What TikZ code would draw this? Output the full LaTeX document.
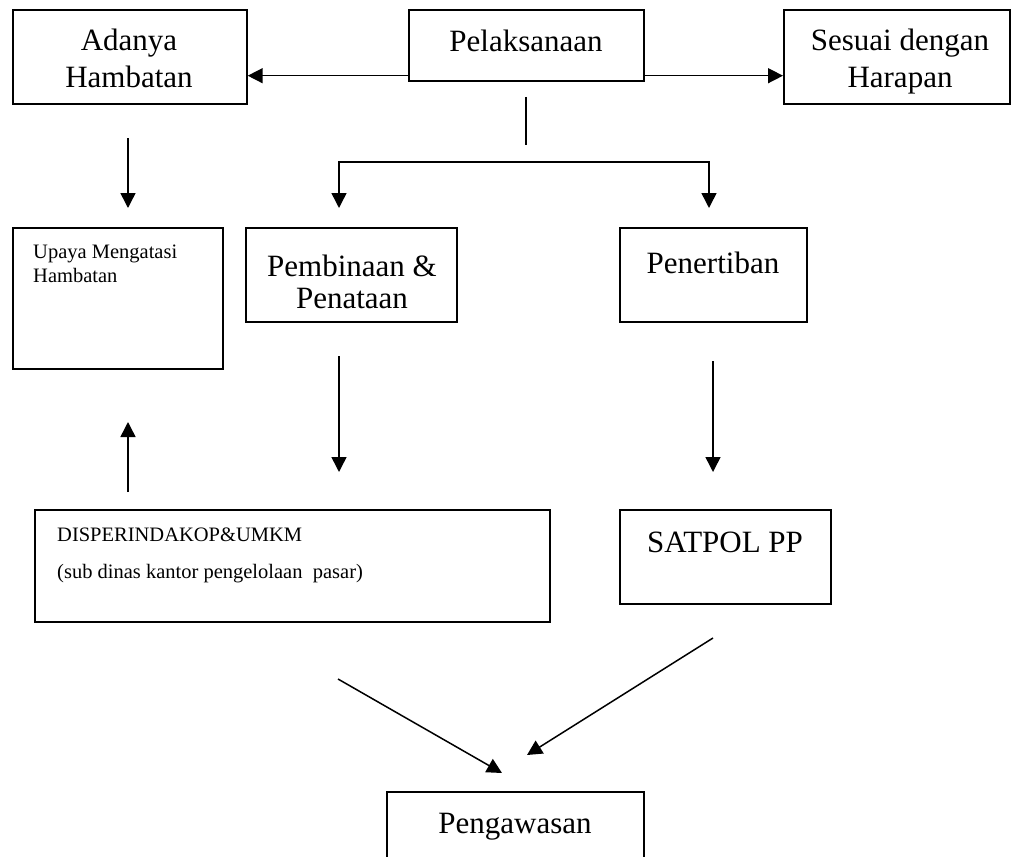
\documentclass[tikz,border=0pt]{standalone}
\usepackage{fontspec}
\setmainfont{Liberation Serif}
\usetikzlibrary{arrows.meta}
\tikzset{
  box/.style={draw, line width=1.7pt, inner sep=0pt, anchor=north west},
  big/.style={font=\fontsize{31}{36}\selectfont, inner sep=0pt, anchor=base},
  small/.style={font=\fontsize{20.5}{24}\selectfont, inner sep=0pt, anchor=base west},
  conn/.style={line width=1.5pt},
  arr/.style={line width=1.5pt, -{Triangle[length=15pt,width=15pt]}}
}
\begin{document}
\begin{tikzpicture}[x=1pt,y=-1pt]
\useasboundingbox (0,0) rectangle (1011,856);
% boxes
\node[box, minimum width=234pt, minimum height=94pt] (adanya) at (12,9) {};
\node[box, minimum width=235pt, minimum height=71pt] (pel) at (408,9) {};
\node[box, minimum width=226pt, minimum height=94pt] (sesuai) at (783,9) {};
\node[box, minimum width=210pt, minimum height=141pt] (upaya) at (12,227) {};
\node[box, minimum width=211pt, minimum height=94pt] (pemb) at (245,227) {};
\node[box, minimum width=187pt, minimum height=94pt] (pener) at (619,227) {};
\node[box, minimum width=515pt, minimum height=112pt] (disp) at (34,509) {};
\node[box, minimum width=211pt, minimum height=94pt] (satpol) at (619,509) {};
\node[box, minimum width=257pt, minimum height=80pt] (peng) at (386,791) {};
% texts
\node[big] (tAd1) at (129,51) {Adanya};
\node[big] (tAd2) at (129,88) {Hambatan};
\node[big] (tPel) at (526,52) {Pelaksanaan};
\node[big] (tSe1) at (900,51) {Sesuai dengan};
\node[big] (tSe2) at (900,88) {Harapan};
\node[small] (tUp1) at (33,258) {Upaya Mengatasi};
\node[small] (tUp2) at (33,282) {Hambatan};
\node[big] (tPb1) at (352,276) {Pembinaan \&};
\node[big] (tPb2) at (352,308) {Penataan};
\node[big] (tPn) at (713,273) {Penertiban};
\node[small] (tDi1) at (57,541) {DISPERINDAKOP\&UMKM};
\node[small] (tDi2) at (57,578) {(sub dinas kantor pengelolaan\ \ pasar)};
\node[big] (tSa) at (725,552) {SATPOL PP};
\node[big] (tPg) at (515,833) {Pengawasan};
% free-end coordinates
\coordinate (trA) at (526,97);
\coordinate (trB) at (526,145);
\coordinate (hL) at (339,162);
\coordinate (hR) at (709,162);
\coordinate (pembIn) at (339,208);
\coordinate (penerIn) at (709,208);
\coordinate (adOut) at (128,138);
\coordinate (upIn) at (128,208);
\coordinate (pbOut) at (339,356);
\coordinate (pbIn) at (339,472);
\coordinate (pnOut) at (713,361);
\coordinate (pnIn) at (713,472);
\coordinate (diOut) at (128,492);
\coordinate (diIn) at (128,422);
\coordinate (dgL1) at (338,679);
\coordinate (dgL2) at (502,773);
\coordinate (dgR1) at (713,638);
\coordinate (dgR2) at (527,755);
% connectors
\draw[arr] ([yshift=6pt]pel.south west) -- ([yshift=6pt]pel.south west -| adanya.east);
\draw[arr] ([yshift=6pt]pel.south east) -- ([yshift=6pt]pel.south east -| sesuai.west);
\draw[conn] (trA) -- (trB);
\draw[arr] (hR) -- (hL) -- (pembIn);
\draw[arr] (hL) -- (hR) -- (penerIn);
\draw[arr] (adOut) -- (upIn);
\draw[arr] (pbOut) -- (pbIn);
\draw[arr] (pnOut) -- (pnIn);
\draw[arr] (diOut) -- (diIn);
\draw[arr] (dgL1) -- (dgL2);
\draw[arr] (dgR1) -- (dgR2);
\end{tikzpicture}
\end{document}
